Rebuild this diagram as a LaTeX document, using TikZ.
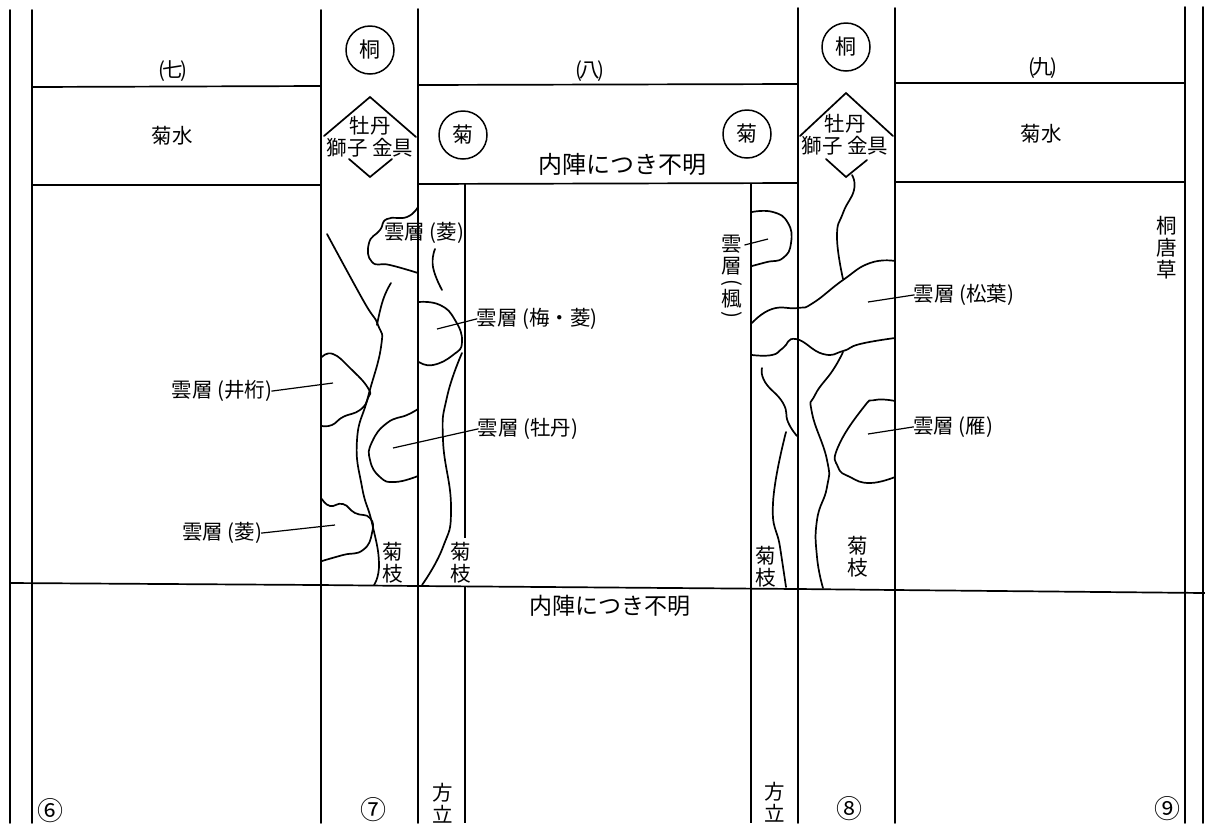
\documentclass[tikz,border=0pt]{standalone}
\usepackage{fontspec}
\setmainfont{Noto Sans CJK JP}
\newcommand{\bayno}[1]{(\kern-3pt#1\kern-3pt)}
\tikzset{
	rule/.style={line width=1.7pt, line cap=round},
	thinrule/.style={line width=1.3pt},
	contour/.style={line width=1.7pt, line cap=round, smooth, tension=0.85},
	leader/.style={line width=1.2pt, shorten <=-1pt},
	crest/.style={draw, circle, line width=1.5pt, minimum size=48pt, inner sep=0pt, font=\fontsize{21}{22}\selectfont},
	tag/.style={inner sep=0pt, align=center, font=\fontsize{20.5}{22}\selectfont},
	numtag/.style={inner sep=0pt, font=\fontsize{26}{26}\selectfont},
}

\begin{document}
\begin{tikzpicture}[x=1pt,y=-1pt]
	\useasboundingbox (0,0) rectangle (1205,823);

	% Posts
	\draw[rule] (10,10) -- (10,823);
	\draw[rule] (32,10) -- (32,823);
	\draw[rule] (321,10) -- (321,823);
	\draw[rule] (418,9) -- (418,823);
	\draw[rule] (798,8) -- (798,823);
	\draw[rule] (895,8) -- (895,823);
	\draw[rule] (1185,7) -- (1185,823);
	\draw[rule] (1203,7) -- (1203,823);

	% Inner posts
	\draw[thinrule] (465,183) -- (465,538);
	\draw[thinrule] (465,586) -- (465,823);
	\draw[thinrule] (751,183) -- (751,823);

	% Beams
	\draw[rule] (32,87) -- (321,86);
	\draw[rule] (32,185) -- (321,185);
	\draw[rule] (418,85) -- (798,84);
	\draw[rule] (418,184) -- (798,183);
	\draw[rule] (895,83) -- (1185,83);
	\draw[rule] (895,182) -- (1185,182);
	\draw[rule] (10,583) -- (320,585) -- (418,586) -- (798,589) -- (895,590) -- (1205,593);

	% Bay numbers
	\node (bay7) at (173,71) [tag] {\bayno{七}};
	\node (bay8) at (590,71) [tag] {\bayno{八}};
	\node (bay9) at (1043,68) [tag] {\bayno{九}};

	% Crests
	\node (kiriL) at (370,50) [crest] {桐};
	\node (kiriR) at (846,47) [crest] {桐};
	\node (kikuL) at (463,135) [crest] {菊};
	\node (kikuR) at (747,134) [crest] {菊};

	% Frieze texts
	\node (waterL) at (172,136) [tag] {菊水};
	\node (waterR) at (1041,134) [tag] {菊水};
	\node (unknownT) at (622,164) [tag, font=\fontsize{24}{24}\selectfont] {内陣につき不明};
	\node (unknownB) at (610,606) [tag, font=\fontsize{23}{24}\selectfont] {内陣につき不明};

	% Metal fittings
	\draw[contour] (324,136) -- (370,97) -- (416,137);
	\draw[contour] (349,159) -- (370,177) -- (392,159);
	\draw[contour] (800,136) -- (846,93) -- (893,136);
	\draw[contour] (826,159) -- (846,177) -- (867,160);
	\node (fitL) at (370,137) [tag] {牡丹\\獅子 金具};
	\node (fitR) at (845,135) [tag] {牡丹\\獅子 金具};

	% Left post, branch lines
	\draw[contour] plot coordinates {(327,234) (363,300) (378,325) (381,347) (368,397) (357,440) (362,487) (372,523) (379,563) (374,585)};
	\draw[contour] plot coordinates {(391,283) (383,300) (377,325)};
	\draw[contour] plot coordinates {(435,249) (433,267) (442,290)};
	\draw[contour] plot coordinates {(462,353) (447,397) (443,440) (451,507) (443,547) (422,585)};

	% Left post, clouds
	\draw[contour] plot coordinates {(418,207) (407,217) (387,219) (380,230) (369,243) (372,262) (390,265) (418,273)};
	\draw[contour] plot coordinates {(322,357) (333,354) (350,368) (368,388) (368,398) (360,410) (343,417) (332,425) (322,426)};
	\draw[contour] plot coordinates {(322,499) (330,506) (343,504) (355,513) (370,518) (372,533) (363,550) (343,555) (322,561)};
	\draw[contour] plot coordinates {(418,409) (407,415) (387,423) (372,442) (370,460) (380,477) (395,482) (418,476)};
	\draw[contour] plot coordinates {(419,302) (440,305) (455,320) (462,342) (453,355) (433,365) (419,362)};

	% Right post, branch lines
	\draw[contour] plot coordinates {(852,175) (854,190) (843,213) (837,237) (843,279)};
	\draw[contour] plot coordinates {(843,352) (833,370) (815,395) (812,413) (827,460) (827,487) (817,520) (817,557) (823,588)};
	\draw[contour] plot coordinates {(762,368) (765,382) (783,403) (788,422) (797,436)};
	\draw[contour] plot coordinates {(786,432) (773,503) (780,547) (786,587)};

	% Right post, clouds
	\draw[contour] plot coordinates {(752,212) (773,212) (788,223) (791,243) (783,258) (767,262) (752,266)};
	\draw[contour] plot coordinates {(752,323) (772,309) (798,308) (813,303) (843,280) (870,263) (895,261)};
	\draw[contour] plot coordinates {(752,355) (772,355) (783,348) (796,339) (823,354) (843,351) (860,344) (895,338)};
	\draw[contour] plot coordinates {(895,401) (875,400) (863,408) (838,447) (838,467) (850,477) (870,483) (895,477)};

	% Cloud labels
	\node (hishiT) at (424,233) [tag] {雲層 (菱)};
	\node (igeta) at (222,391) [tag] {雲層 (井桁)};
	\node (hishiB) at (222,533) [tag] {雲層 (菱)};
	\node (ume) at (537,319) [tag] {雲層 (梅・菱)};
	\node (botan) at (528,429) [tag] {雲層 (牡丹)};
	\node (kaede) at (732,255) [tag] {雲\\層};
	\node (kaedeOpen) at (732,283) [tag] {\rotatebox{-90}{(}};
	\node (kaedeName) at (732,299) [tag] {楓};
	\node (kaedeClose) at (732,315) [tag] {\rotatebox{-90}{)}};
	\node (matsu) at (964,295) [tag] {雲層 (松葉)};
	\node (kari) at (953,427) [tag] {雲層 (雁)};

	% Leader ends
	\coordinate (igetaEnd) at (333,383);
	\coordinate (hishiEnd) at (335,525);
	\coordinate (umeEnd) at (437,329);
	\coordinate (botanEnd) at (393,448);
	\coordinate (kaedeEnd) at (768,239);
	\coordinate (matsuEnd) at (868,302);
	\coordinate (kariEnd) at (868,434);

	% Leaders
	\draw[leader] (igeta.east) -- (igetaEnd);
	\draw[leader] (hishiB.east) -- (hishiEnd);
	\draw[leader] (ume.west) -- (umeEnd);
	\draw[leader] (botan.west) -- (botanEnd);
	\draw[leader] (kaede.north east)++(3,10) -- (kaedeEnd);
	\draw[leader] (matsu.west) -- (matsuEnd);
	\draw[leader] (kari.west) -- (kariEnd);

	% Branch labels
	\node (edge1) at (393,563) [tag] {菊\\枝};
	\node (edge2) at (461,563) [tag] {菊\\枝};
	\node (edge3) at (766,567) [tag] {菊\\枝};
	\node (edge4) at (858,557) [tag] {菊\\枝};
	\node (vine) at (1167,248) [tag] {桐\\唐\\草};

	% Side posts
	\node (hodateL) at (443,803) [tag] {方\\立};
	\node (hodateR) at (775,802) [tag] {方\\立};

	% Pillar numbers
	\node (num6) at (50,811) [numtag] {⑥};
	\node (num7) at (373,810) [numtag] {⑦};
	\node (num8) at (849,809) [numtag] {⑧};
	\node (num9) at (1167,809) [numtag] {⑨};
\end{tikzpicture}
\end{document}
